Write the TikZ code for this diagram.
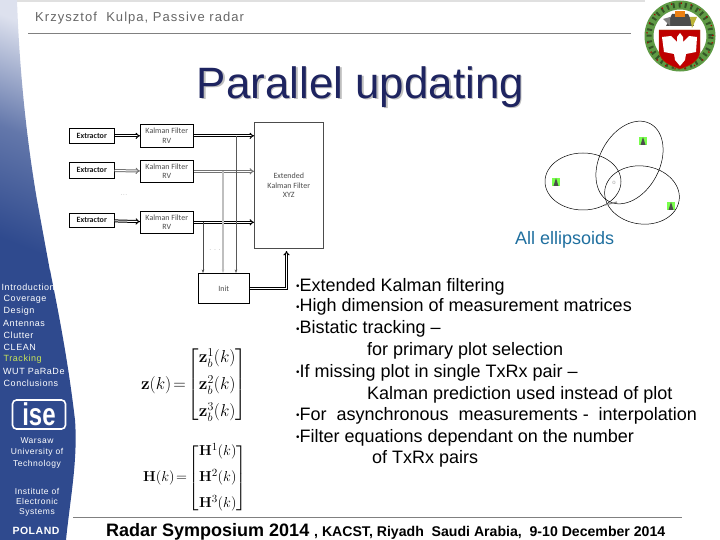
\documentclass[tikz,border=0pt]{standalone}
\usepackage{amsmath}
\usepackage{amssymb}
\usepackage[no-math]{fontspec}
\setmainfont{Liberation Sans}
\newfontfamily\boxfont{Carlito}
\usetikzlibrary{arrows.meta}
\newcommand{\px}[1]{\fontsize{#1}{#1}\selectfont}
\newcommand{\bul}{\raisebox{1.5pt}{\scalebox{.55}{\textbullet}}}
\definecolor{navytitle}{HTML}{1E2460}
\definecolor{sideblue}{HTML}{2F4A8E}
\definecolor{sidelight}{HTML}{DDE1EE}
\definecolor{capblue}{HTML}{1F6F9F}
\definecolor{wreath}{HTML}{5E9A45}
\tikzset{
	blockbox/.style={draw=black, line width=0.6pt, fill=white, text=black!70, font=\boxfont\fontsize{8}{9.5}\selectfont, align=center, anchor=north west, inner sep=0pt},
	extbox/.style={blockbox, text=black!90, font=\boxfont\bfseries\fontsize{8}{9.5}\selectfont, minimum width=45pt},
	dblline/.style={double=white, double distance=1pt, line width=1pt},
	dblarrow/.style={dblline, -{Implies}},
	taparrow/.style={line width=0.7pt, -{Stealth[length=3.5pt]}},
	bullettext/.style={anchor=base west, font=\px{18}, inner sep=0pt},
	sidetext/.style={anchor=west, text=white, inner sep=0pt, font=\addfontfeature{LetterSpace=6}\px{9}},
	sidecenter/.style={anchor=center, text=white, inner sep=0pt, align=center, font=\addfontfeature{LetterSpace=6}\px{8.5}},
}
\begin{document}
\begin{tikzpicture}[x=1pt, y=-1pt, >=stealth]
	\useasboundingbox (0, 0) rectangle (720, 540);

	% Side band
	\fill[black!12] (0, 0) rectangle (645, 2);
	\shade[bottom color=sideblue, top color=sidelight, middle color=sideblue!70!sidelight, shading angle=-22]
		(0, 0) -- (17, 0) .. controls (19, 60) and (25, 130) .. (37, 200) -- (50, 271) -- (0, 271) -- cycle;
	\fill[sideblue] (0, 270) -- (50, 270) .. controls (58, 310) and (68, 360) .. (75, 420) .. controls (78, 460) and (70, 500) .. (66, 540) -- (0, 540) -- cycle;

	% Header and title
	\node[anchor=base west, inner sep=0pt, text=black!60, font=\addfontfeature{LetterSpace=8}\px{13}] (author) at (35, 22) {Krzysztof\ \ Kulpa, Passive radar};
	\draw[black!50, line width=0.6pt] (28, 33.5) -- (631, 33.5);
	\node[anchor=base, inner sep=0pt, text=black!25, font=\px{43.9}] (titleshadow) at (362, 100) {Parallel updating};
	\node[anchor=base, inner sep=0pt, text=navytitle, font=\px{43.9}] (title) at (360.5, 98.5) {Parallel updating};

	% Crest
	\draw[wreath, line width=9pt] (680, 36) circle [radius=31pt];
	\draw[wreath!55!black, line width=5pt, dash pattern=on 2pt off 4pt] (680, 36) circle [radius=31pt];
	\draw[red!70!black, line width=1.5pt, dash pattern=on 1pt off 9pt] (680, 36) circle [radius=33pt];
	\fill[black!70] (672, 14) -- (688, 14) -- (694, 26) -- (666, 26) -- cycle;
	\fill[orange!70!brown] (675, 11) rectangle (685, 17);
	\fill[black!50] (663, 19) -- (670, 17) -- (670, 26) -- cycle;
	\fill[yellow!70!black] (697, 17) -- (690, 17) -- (692, 28) -- cycle;
	\filldraw[draw=orange!60!black, fill=red!75!black] (659, 30) -- (700, 30) -- (700, 52) .. controls (699, 61) and (690, 66) .. (680, 69) .. controls (670, 66) and (660, 61) .. (659, 52) -- cycle;
	\fill[white] (680, 33) -- (683, 37) -- (683, 42) -- (689, 36) -- (697, 37) -- (696, 52) -- (686, 54) -- (685, 60) -- (680, 66) -- (675, 60) -- (674, 54) -- (664, 52) -- (662, 37) -- (671, 36) -- (677, 42) -- (677, 37) -- cycle;

	% Filter blocks
	\node[extbox, minimum height=15pt] (ext1) at (69, 128) {Extractor};
	\node[extbox, minimum height=16pt] (ext2) at (69, 162) {Extractor};
	\node[extbox, minimum height=14pt] (ext3) at (69, 213) {Extractor};
	\node[blockbox, minimum width=53pt, minimum height=23pt] (kal1) at (140, 124) {Kalman Filter\\RV};
	\node[blockbox, minimum width=53pt, minimum height=22pt] (kal2) at (140, 160) {Kalman Filter\\RV};
	\node[blockbox, minimum width=53pt, minimum height=22pt] (kal3) at (140, 211) {Kalman Filter\\RV};
	\node[blockbox, draw=black!70, minimum width=69pt, minimum height=126pt] (ekf) at (254, 122) {Extended\\Kalman Filter\\XYZ};
	\node[blockbox, minimum width=51pt, minimum height=30pt] (init) at (198, 273) {Init};
	\coordinate (tap1) at (236, 0 |- kal1.east);
	\coordinate (tap2) at (223, 0 |- kal2.east);
	\coordinate (tap3) at (203, 0 |- kal3.east);
	\coordinate (bend) at (286.5, 0 |- init.east);
	\coordinate (ekfin) at (286.5, 251);

	% Connectors
	\draw[dblarrow] (ext1) -- (kal1);
	\draw[dblarrow, black!55] (ext2) -- (kal2);
	\draw[dblarrow] (ext3) -- (kal3);
	\draw[dblarrow] (kal1) -- (ekf.west |- kal1);
	\draw[dblarrow, black!55] (kal2) -- (ekf.west |- kal2);
	\draw[dblarrow] (kal3) -- (ekf.west |- kal3);
	\draw[taparrow, black!65] (tap1) -- (tap1 |- init.north);
	\draw[taparrow, black!25, line width=1.5pt] (tap2) -- (tap2 |- init.north);
	\draw[taparrow, black!70] (tap3) -- (tap3 |- init.north);
	\draw[dblarrow] (init.east) -- (bend) -- (ekfin);
	\node[text=black!50, font=\px{6}, inner sep=0pt] (rowdots) at (124, 195) {$\cdot$\\[3pt]$\cdot$\\[3pt]$\cdot$};
	\node[text=black!30, font=\px{7}, inner sep=0pt] (initdots) at (215, 250) {. . .};

	% Ellipses
	\draw[line width=0.5pt] (583, 181.5) ellipse [x radius=38pt, y radius=28.5pt];
	\draw[line width=0.5pt, rotate around={62:(629.5, 162.5)}] (629.5, 162.5) ellipse [x radius=44pt, y radius=30pt];
	\draw[line width=0.5pt, rotate around={-8:(642, 195)}] (642, 195) ellipse [x radius=37.5pt, y radius=29pt];
	\node[text=black!35, font=\px{6}, inner sep=0pt] (target) at (614, 183) {o};
	\draw[black!45, line width=1.2pt] (605, 205) -- (617, 202);
	\fill[green!75!yellow!70] (552, 178) rectangle (560, 186);
	\fill[black!70] (556, 178) -- (558.5, 186) -- (553.5, 186) -- cycle;
	\fill[green!75!yellow!70] (639, 137) rectangle (647, 145);
	\fill[black!70] (643, 137) -- (645.5, 145) -- (640.5, 145) -- cycle;
	\fill[green!75!yellow!70] (667, 202) rectangle (675, 210);
	\fill[black!70] (671, 202) -- (673.5, 210) -- (668.5, 210) -- cycle;
	\node[anchor=base west, inner sep=0pt, text=capblue, font=\px{18}] (caption) at (515, 244) {All ellipsoids};

	% Side band texts
	\node[sidetext] (menu1) at (1.5, 287) {Introduction};
	\node[sidetext] (menu2) at (3.5, 299) {Coverage};
	\node[sidetext] (menu3) at (3.5, 311) {Design};
	\node[sidetext] (menu4) at (3, 323) {Antennas};
	\node[sidetext] (menu5) at (3.5, 335) {Clutter};
	\node[sidetext] (menu6) at (3.5, 347) {CLEAN};
	\node[sidetext, text=yellow!70!green!70!white] (menu7) at (3.5, 359) {Tracking};
	\node[sidetext] (menu8) at (3, 371) {WUT PaRaDe};
	\node[sidetext] (menu9) at (3.5, 383) {Conclusions};
	\node[draw=white, line width=1.6pt, rounded corners=4pt, minimum width=53pt, minimum height=29pt, inner sep=0pt, text=white, font=\bfseries\px{30}] (ise) at (39, 414.5) {\scalebox{0.8}[1.05]{ise}};
	\node[sidecenter] (warsaw) at (37, 441) {Warsaw};
	\node[sidecenter] (univ) at (37, 452.5) {University of};
	\node[sidecenter] (tech) at (37, 464) {Technology};
	\node[sidecenter] (inst) at (37, 491) {Institute of};
	\node[sidecenter] (elec) at (37, 501.5) {Electronic};
	\node[sidecenter] (syst) at (37, 512) {Systems};
	\node[anchor=center, inner sep=0pt, text=white, font=\bfseries\addfontfeature{LetterSpace=5}\px{10.5}] (poland) at (36, 531) {POLAND};

	% Matrices
	\node[anchor=center, inner sep=0pt, font=\px{17}] (zmat) at (194, 385) {$\mathbf{z}(k)\!=\!\begin{bmatrix}\mathbf{z}_b^1(k)\\[8pt]\mathbf{z}_b^2(k)\\[8pt]\mathbf{z}_b^3(k)\end{bmatrix}$};
	\node[anchor=center, inner sep=0pt, font=\px{15.5}] (hmat) at (195, 478) {$\mathbf{H}(k)\!=\!\begin{bmatrix}\mathbf{H}^1(k)\\[9pt]\mathbf{H}^2(k)\\[9pt]\mathbf{H}^3(k)\end{bmatrix}$};

	% Bullet list
	\node[bullettext] (line1) at (296, 291) {\bul Extended Kalman filtering};
	\node[bullettext] (line2) at (296, 311.5) {\bul High dimension of measurement matrices};
	\node[bullettext] (line3) at (296, 333.5) {\bul Bistatic tracking --};
	\node[bullettext] (line4) at (367, 355.5) {for primary plot selection};
	\node[bullettext] (line5) at (296, 377) {\bul If missing plot in single TxRx pair --};
	\node[bullettext] (line6) at (367, 399) {Kalman prediction used instead of plot};
	\node[bullettext] (line7) at (296, 420) {\bul For\ \ asynchronous\ \ measurements -\ \ interpolation};
	\node[bullettext] (line8) at (296, 442) {\bul Filter equations dependant on the number};
	\node[bullettext] (line9) at (372, 463.5) {of TxRx pairs};

	% Footer
	\draw[black!50, line width=0.6pt] (73, 517) -- (682, 517);
	\node[anchor=base west, inner sep=0pt, font=\bfseries\px{18}] (footer1) at (106, 536.5) {Radar Symposium 2014};
	\node[anchor=base west, inner sep=0pt, font=\bfseries\px{14.1}] (footer2) at (314, 536.5) {, KACST, Riyadh\ \ Saudi Arabia,\ \ 9-10 December 2014};
\end{tikzpicture}
\end{document}
